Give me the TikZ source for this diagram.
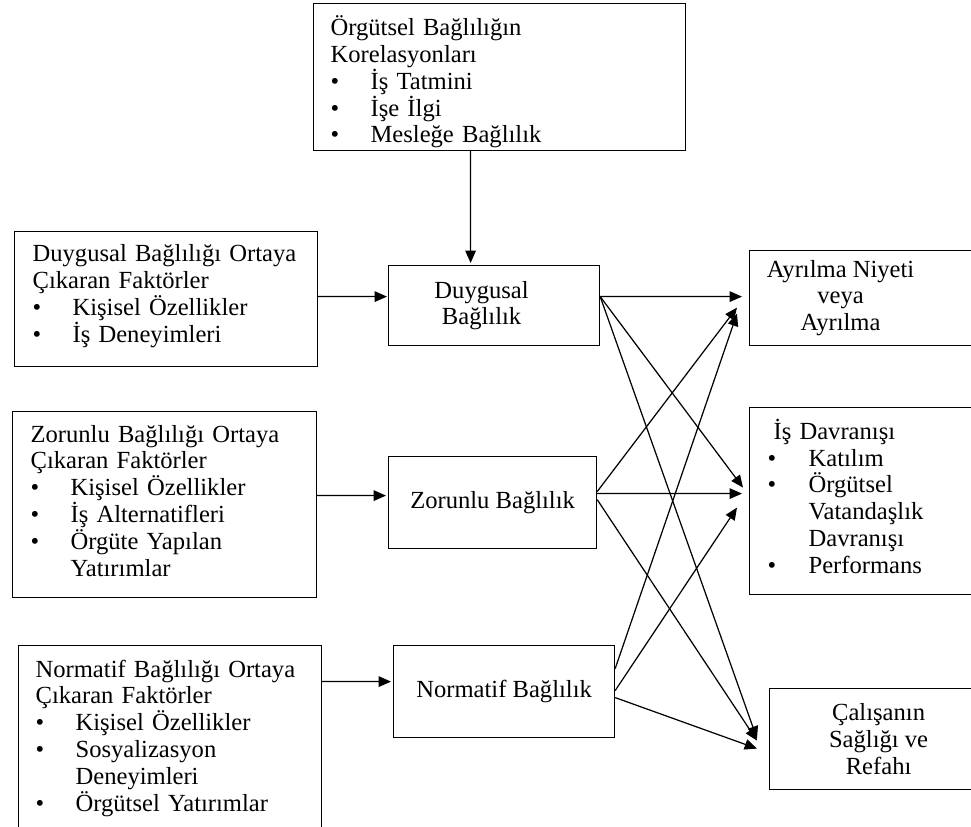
\documentclass[tikz,border=0pt]{standalone}
\usepackage{fontspec}
\setmainfont{Liberation Serif}
\usetikzlibrary{arrows.meta,calc}

\newcommand{\itm}[2][0.8cm]{\makebox[#1][l]{\textbullet}#2}
\newcommand{\offbox}[3]{\makebox[#1][l]{\parbox{#2}{\centering #3}}}

\begin{document}
\begin{tikzpicture}[
    x=0.02cm, y=-0.02cm,
    listbox/.style={draw, line width=0.7pt, anchor=north west, align=left, inner ysep=0pt,
      font=\fontsize{14pt}{15.25pt}\selectfont},
    plainbox/.style={draw, line width=0.7pt, anchor=north west, align=center, inner sep=0pt,
      font=\fontsize{14pt}{15.25pt}\selectfont},
    link/.style={line width=0.7pt, -{Triangle[length=7pt, width=6pt]}}
  ]
  \useasboundingbox (0,0) rectangle (971,827);
  \clip (0,0) rectangle (971,827);

  % correlates (top)
  \node[listbox, inner xsep=0.34cm, text width=6.76cm, minimum height=2.94cm] (kor) at (313,3)
    {\rule{0pt}{17pt}Örgütsel Bağlılığın\\Korelasyonları\\\itm{İş Tatmini}\\\itm{İşe İlgi}\\\itm{Mesleğe Bağlılık}};

  % antecedents (left)
  \node[listbox, inner xsep=0.36cm, text width=5.34cm, minimum height=2.7cm] (duyf) at (14,231)
    {Duygusal Bağlılığı Ortaya\\Çıkaran Faktörler\\\itm{Kişisel Özellikler}\\\itm{İş Deneyimleri}\rule[-6.4pt]{0pt}{0pt}};
  \node[listbox, inner xsep=0.36cm, text width=5.36cm, minimum height=3.72cm] (zorf) at (12,411)
    {Zorunlu Bağlılığı Ortaya\\Çıkaran Faktörler\\\itm{Kişisel Özellikler}\\\itm{İş Alternatifleri}\\
     \itm{Örgüte Yapılan}\\\hspace*{0.8cm}Yatırımlar\rule[-4.5pt]{0pt}{0pt}};
  \node[listbox, inner xsep=0.34cm, text width=5.38cm, minimum height=3.7cm] (norf) at (18,645)
    {Normatif Bağlılığı Ortaya\\Çıkaran Faktörler\\\itm{Kişisel Özellikler}\\\itm{Sosyalizasyon}\\
     \hspace*{0.8cm}Deneyimleri\\\itm{Örgütsel Yatırımlar}};

  % commitment types (middle)
  \node[plainbox, minimum width=4.22cm, minimum height=1.6cm] (duy) at (388,265)
    {\offbox{4.22cm}{3.72cm}{Duygusal\\Bağlılık}};
  \node[plainbox, minimum width=4.16cm, minimum height=1.84cm] (zor) at (388,456)
    {Zorunlu Bağlılık};
  \node[plainbox, minimum width=4.42cm, minimum height=1.84cm] (nor) at (393,645)
    {Normatif Bağlılık};

  % consequences (right)
  \node[plainbox, minimum width=4.72cm, minimum height=1.9cm] (ayr) at (749,250)
    {\offbox{4.72cm}{3.64cm}{Ayrılma Niyeti\\veya\\Ayrılma}};
  \node[listbox, inner xsep=0.48cm, text width=3.76cm, minimum height=3.74cm] (isd) at (749,407)
    {İş Davranışı\\\hspace*{-0.12cm}\itm[0.82cm]{Katılım}\\\hspace*{-0.12cm}\itm[0.82cm]{Örgütsel}\\
     \hspace*{0.7cm}Vatandaşlık\\\hspace*{0.7cm}Davranışı\\\hspace*{-0.12cm}\itm[0.82cm]{Performans}\rule[-5.7pt]{0pt}{0pt}};
  \node[plainbox, minimum width=4.32cm, minimum height=2.02cm] (cal) at (769,688)
    {\offbox{4.32cm}{4.36cm}{Çalışanın\\Sağlığı ve\\Refahı}};

  % into the commitment boxes
  \draw[link] ($(kor.south)+(-29,0)$) -- ($(duy.north)+(-23.5,-2)$);
  \draw[link] ($(duyf.east)+(0,-2.5)$) -- ($(duy.west)+(-1,-9)$);
  \draw[link] ($(zorf.east)+(0,-9)$) -- ($(zor.west)+(-2,-7)$);
  \draw[link] ($(norf.east)+(0,-56.5)$) -- ($(nor.west)+(-2,-10)$);

  % from Duygusal
  \draw[link] ($(duy.east)+(0,-9)$) -- ($(ayr.west)+(-7,-1.5)$);
  \draw[link] ($(duy.east)+(0,-9)$) -- ($(isd.west)+(-6,-13.5)$);
  \draw[link] ($(duy.east)+(0,-9)$) -- ($(cal.west)+(-12,-0.5)$);

  % from Zorunlu
  \draw[link] ($(zor.east)+(0,-11)$) -- ($(ayr.west)+(-12,9.5)$);
  \draw[link] ($(zor.east)+(0,-9)$) -- ($(isd.west)+(-7,-7.5)$);
  \draw[link] ($(zor.east)+(0,-3)$) -- ($(cal.west)+(-12,1.5)$);

  % from Normatif
  \draw[link] ($(nor.east)+(0,-23)$) -- ($(ayr.west)+(-12,15.5)$);
  \draw[link] ($(nor.east)+(0,-1)$) -- ($(isd.west)+(-12,6.5)$);
  \draw[link] ($(nor.east)+(0,6)$) -- ($(cal.west)+(-12,9.5)$);
\end{tikzpicture}
\end{document}
